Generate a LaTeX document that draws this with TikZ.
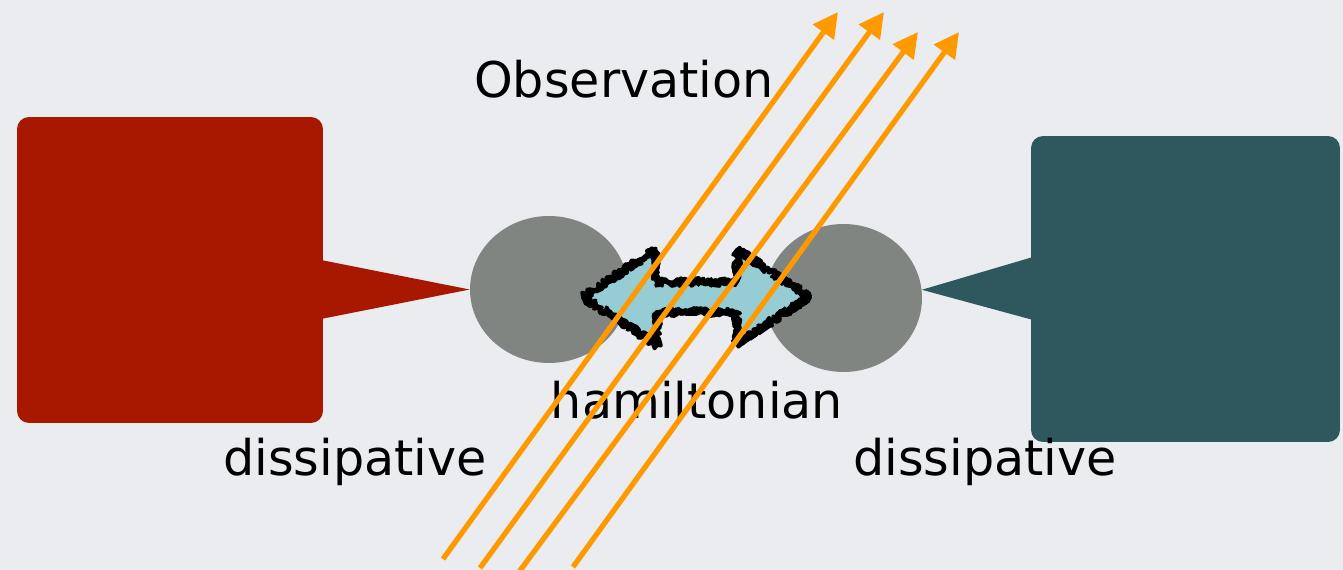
\documentclass[tikz,border=0pt]{standalone}
\usepackage{fontspec}
\setmainfont{DejaVu Sans}
\usetikzlibrary{arrows.meta,calc,shapes.geometric,decorations.pathmorphing}

\definecolor{bgcol}{RGB}{234,236,239}
\definecolor{bathred}{RGB}{168,24,0}
\definecolor{bathteal}{RGB}{47,88,94}
\definecolor{sitegray}{RGB}{128,133,130}
\definecolor{hopblue}{RGB}{150,205,213}
\definecolor{obsorange}{RGB}{255,153,0}

\tikzset{
  bathbox/.style={rectangle, rounded corners=0.24cm, inner sep=0pt},
  sitenode/.style={ellipse, fill=sitegray, inner sep=0pt},
  lbl/.style={font=\fontsize{28}{30}\selectfont, inner sep=0pt},
  obsray/.style={draw=obsorange, line width=3pt, -{Triangle[length=0.5cm,width=0.5cm]}},
  rough/.style={draw=black, line width=2.2pt, line join=round,
    decorate, decoration={random steps, segment length=1.6pt, amplitude=2.4pt}}
}

\begin{document}
\begin{tikzpicture}[x=0.02cm, y=-0.02cm]
\useasboundingbox (0,0) rectangle (1343,570);
\fill[bgcol] (0,0) rectangle (1343,570);

\node[bathbox, fill=bathred, minimum width=6.12cm, minimum height=6.12cm] (redbath) at (170,270) {};
\node[bathbox, fill=bathteal, minimum width=6.18cm, minimum height=6.12cm] (tealbath) at (1185.5,289) {};

\node[sitenode, minimum width=3.16cm, minimum height=2.94cm] (leftsite) at (549,289.5) {};
\node[sitenode, minimum width=3.14cm, minimum height=2.96cm] (rightsite) at (843.5,298) {};

% dissipative links, base tucked into the bath
\fill[bathred] (leftsite.west) -- ($(redbath.east |- leftsite.west)+(-20,-33)$)
  -- ($(redbath.east |- leftsite.west)+(-20,33)$) -- cycle;
\fill[bathteal] (rightsite.6) -- ($(tealbath.west |- rightsite.6)+(20,-38)$)
  -- ($(tealbath.west |- rightsite.6)+(20,35)$) -- cycle;

% hamiltonian coupling
\fill[hopblue] (583,297) -- (655,250) -- (657,282) -- (737,282) -- (737,250)
  -- (810,297) -- (737,343) -- (737,312) -- (657,312) -- (657,345) -- cycle;
\foreach \s in {1,...,4}
  \draw[rough] (583,297) -- (655,250) -- (657,282) -- (737,282) -- (737,250)
    -- (810,297) -- (737,343) -- (737,312) -- (657,312) -- (657,345) -- cycle;

\node[lbl] (obslbl) at (624,79) {Observation};
\node[lbl] (hamlbl) at (697,400) {hamiltonian};
\node[lbl] (disleft) at (355,462) {dissipative};
\node[lbl] (disright) at (985,462) {dissipative};

\coordinate (raya0) at (443,559);
\coordinate (raya1) at (838,12);
\coordinate (rayb0) at (480,568);
\coordinate (rayb1) at (884,12);
\coordinate (rayc0) at (519,572);
\coordinate (rayc1) at (918,32);
\coordinate (rayd0) at (573,567);
\coordinate (rayd1) at (959,32);

\draw[obsray] (raya0) -- (raya1);
\draw[obsray] (rayb0) -- (rayb1);
\draw[obsray] (rayc0) -- (rayc1);
\draw[obsray] (rayd0) -- (rayd1);
\end{tikzpicture}
\end{document}
